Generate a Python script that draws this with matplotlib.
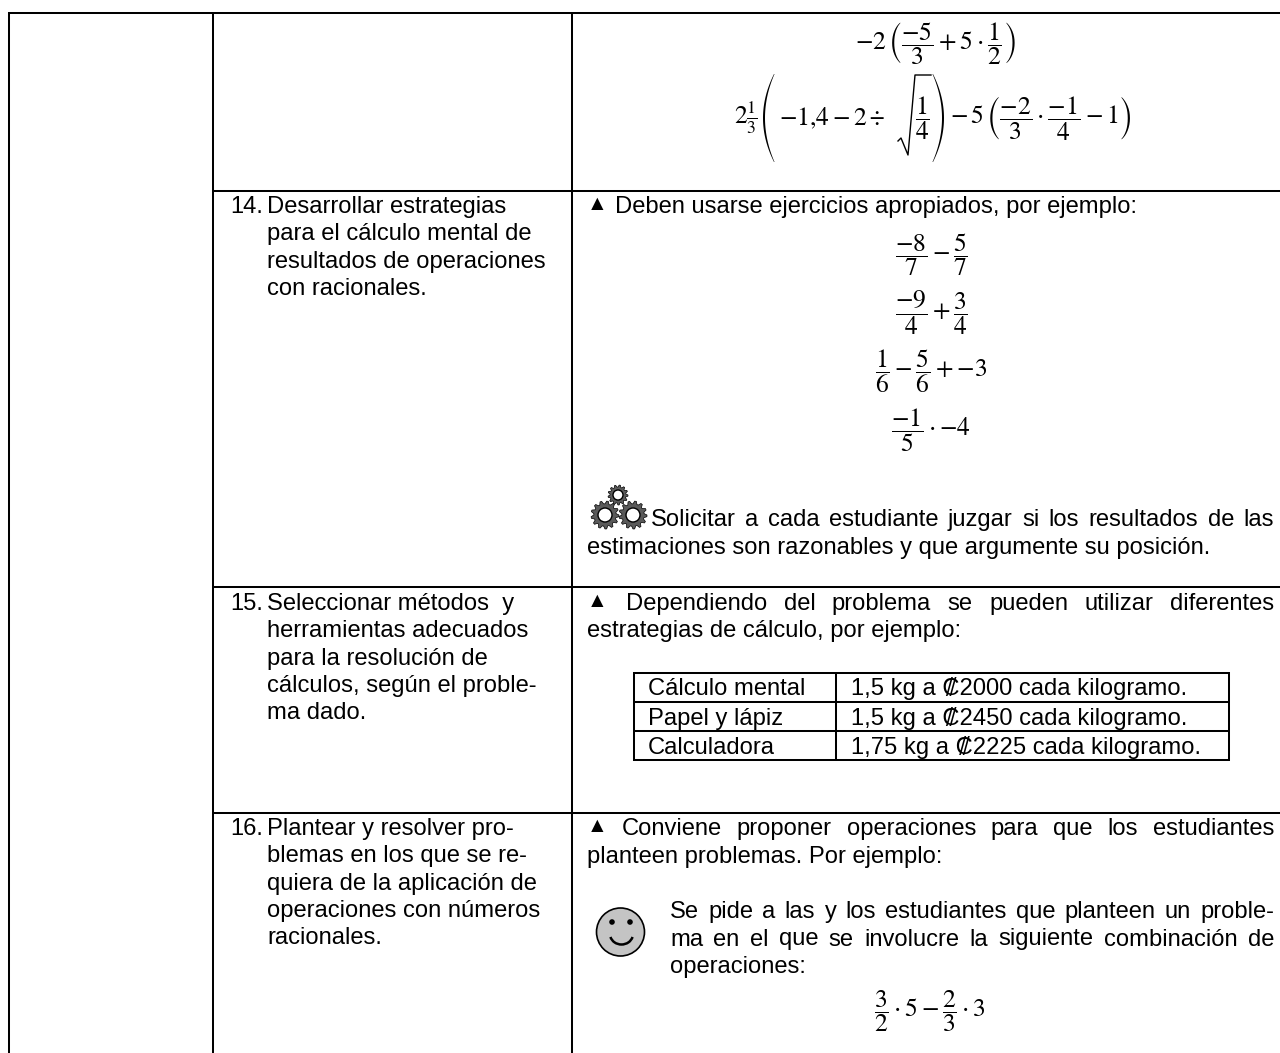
import numpy as np
import matplotlib
matplotlib.use('Agg')
import matplotlib.pyplot as plt
from matplotlib.patches import Circle, Arc, Polygon

plt.rcParams['font.family'] = ['Liberation Sans', 'DejaVu Sans']
plt.rcParams['mathtext.fontset'] = 'stix'

W, H = 1280, 1053
FS = 17.1
MATH = 18.4
LEAD = 27.3

# table text
col1_numbers = ['14.', '15.', '16.']
col1_lines = [
    ['Desarrollar estrategias', 'para el cálculo mental de',
     'resultados de operaciones', 'con racionales.'],
    ['Seleccionar métodos  y', 'herramientas adecuados',
     'para la resolución de', 'cálculos, según el proble-', 'ma dado.'],
    ['Plantear y resolver pro-', 'blemas en los que se re-',
     'quiera de la aplicación de', 'operaciones con números', 'racionales.'],
]
col1_tops = [213, 610, 835]

eq_top = r'$-2\,\left(\dfrac{-5}{3}+5\cdot\dfrac{1}{2}\right)$'
eq_mixed = r'$2\frac{1}{3}$'
eq_inner = r'$-1{,}4-2\div$'
eq_root = r'$\dfrac{1}{4}$'
eq_rest = r'$-\,5\,\left(\dfrac{-2}{3}\cdot\dfrac{-1}{4}-1\right)$'
eq_14 = [r'$\dfrac{-8}{7}-\dfrac{5}{7}$', r'$\dfrac{-9}{4}+\dfrac{3}{4}$',
         r'$\dfrac{1}{6}-\dfrac{5}{6}+{-}3$', r'$\dfrac{-1}{5}\cdot{-}4$']
eq_14_y = [255, 313, 371, 430]
eq_16 = r'$\dfrac{3}{2}\cdot5-\dfrac{2}{3}\cdot3$'

inner_col1 = ['Cálculo mental', 'Papel y lápiz', 'Calculadora']
inner_col2 = ['1,5 kg a ₡2000 cada kilogramo.', '1,5 kg a ₡2450 cada kilogramo.',
              '1,75 kg a ₡2225 cada kilogramo.']
inner_base = [695, 725, 754]

fig = plt.figure(figsize=(W / 100, H / 100), dpi=100)
ax = fig.add_axes([0, 0, 1, 1])
ax.set_xlim(0, W)
ax.set_ylim(H, 0)
ax.axis('off')


def line(x0, y0, x1, y1, lw=1.45):
    ax.plot([x0, x1], [y0, y1], color='black', lw=lw, solid_capstyle='butt')


def label(x, y, s):
    return ax.text(x, y, s, fontsize=FS, va='baseline', ha='left', color='black')


def math(x, y, s, ha='center'):
    return ax.text(x, y, s, fontsize=MATH, ha=ha, va='center', color='black')


def tri(y):
    ax.text(597.5, y - 3, '▲', fontsize=15, va='baseline', ha='center', color='black')


def justified(x0, x1, y, s):
    # spread the words of one line over the cell width
    words = s.split(' ')
    r = fig.canvas.get_renderer()
    ts = [label(x0, y, w) for w in words]
    widths = [t.get_window_extent(r).width for t in ts]
    gap = (x1 - x0 - sum(widths)) / (len(words) - 1)
    x = x0
    for t, w in zip(ts, widths):
        t.set_x(x)
        x += w + gap


def big_paren(side, x0, x1, y0, y1):
    # tall thin bracket, mathtext only goes so high
    t = np.linspace(-1, 1, 50)
    ys = (y0 + y1) / 2 + t * (y1 - y0) / 2
    w = x1 - x0 - 2
    thick = 0.5 + 1.5 * (1 - t ** 2)
    if side == '(':
        outer = x0 + w * t ** 2
        inner = outer + thick
    else:
        outer = x1 - w * t ** 2
        inner = outer - thick
    ax.add_patch(Polygon(np.r_[np.c_[outer, ys], np.c_[inner, ys][::-1]], fc='black', ec='none'))


# grid
line(8, 13, W, 13)
line(9, 12, 9, H)
line(213, 12, 213, H)
line(572, 12, 572, H)
for y in [191, 587, 813]:
    line(213, y, W, y)

# first text column
for num, rows, top in zip(col1_numbers, col1_lines, col1_tops):
    label(230, top, num)
    for i, s in enumerate(rows):
        label(267, top + i * LEAD, s)

# equations
math(935, 44, eq_top)
math(734, 118, eq_mixed, ha='left')
big_paren('(', 763, 776, 74, 162)
math(779, 118, eq_inner, ha='left')
ax.plot([898, 901, 908, 915, 931], [141, 138, 155, 75, 75], color='black', lw=1.0)
math(922, 118, eq_root)
big_paren(')', 931, 944, 74, 162)
math(950, 118, eq_rest, ha='left')
for s, y in zip(eq_14, eq_14_y):
    math(931, y, s)
math(930, 1011, eq_16)

# row 14 notes
tri(213)
label(615, 213, 'Deben usarse ejercicios apropiados, por ejemplo:')
justified(651, 1274, 526, 'Solicitar a cada estudiante juzgar si los resultados de las')
label(587, 554, 'estimaciones son razonables y que argumente su posición.')


def gear(cx, cy, r, teeth=13):
    a = np.linspace(0, 2 * np.pi, teeth * 4, endpoint=False)
    rad = np.where(np.arange(teeth * 4) % 4 < 2, r, r * 0.8)
    ax.add_patch(Polygon(np.c_[cx + rad * np.cos(a), cy + rad * np.sin(a)], fc='#5a5a5a', ec='black', lw=0.5))
    ax.add_patch(Circle((cx, cy), r * 0.5, fc='white', ec='black', lw=1.0))


gear(618, 495, 10)
gear(605, 515, 14)
gear(633, 515, 14)

# row 15 notes
tri(610)
justified(626, 1274, 610, 'Dependiendo del problema se pueden utilizar diferentes')
label(587, 637, 'estrategias de cálculo, por ejemplo:')

# inner table
for y in [673, 702, 731, 760]:
    line(633, y, 1229, y)
for x in [634, 836, 1229]:
    line(x, 672, x, 761)
for a, b, y in zip(inner_col1, inner_col2, inner_base):
    label(648, y, a)
    label(851, y, b)

# row 16 notes
tri(835)
justified(622, 1274, 835, 'Conviene proponer operaciones para que los estudiantes')
label(587, 863, 'planteen problemas. Por ejemplo:')
ax.add_patch(Circle((620.5, 932), 24, fc='#c4c4c4', ec='black', lw=1.2))
ax.add_patch(Circle((612, 922), 2.8, fc='black', ec='none'))
ax.add_patch(Circle((630, 922), 2.8, fc='black', ec='none'))
ax.add_patch(Arc((621.5, 934), 23, 21, theta1=15, theta2=165, color='black', lw=1.8))
justified(670, 1274, 918, 'Se pide a las y los estudiantes que planteen un proble-')
justified(670, 1274, 945.5, 'ma en el que se involucre la siguiente combinación de')
label(670, 973, 'operaciones:')

fig.savefig('out.png', dpi=100)
